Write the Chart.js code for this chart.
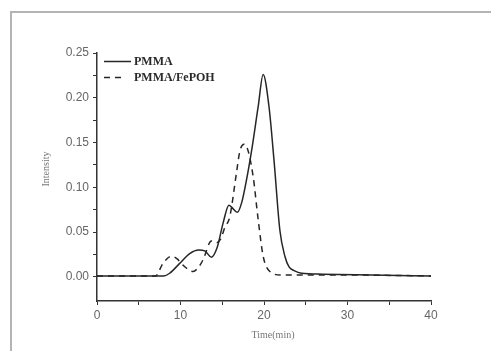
<!DOCTYPE html>
<html>
<head>
<meta charset="utf-8">
<script src="https://cdn.jsdelivr.net/npm/chart.js@4/dist/chart.umd.min.js"></script>
<style>
  body { margin: 0; background: #fff; }
  #wrap { position: relative; width: 491px; height: 351px; overflow: hidden; }
  #frame {
    position: absolute; left: 10px; top: 11px; width: 600px; height: 400px;
    border-left: 2px solid #b4b4b4; border-top: 2px solid #b4b4b4;
  }
  canvas { position: absolute; left: 0; top: 0; }
</style>
</head>
<body>
<div id="wrap">
  <div id="frame"></div>
  <canvas id="gpcChart" width="491" height="351"></canvas>
</div>
<script>
// 曲线数据
const pmmaTime = [0, 8, 8.7, 9.9, 11.1, 12.2, 12.9, 13.7, 14.4, 15.1, 15.8, 16.2, 16.8, 17.3, 17.9, 18.5, 19.3, 19.9, 20.6, 21.2, 21.9, 22.5, 23.0, 23.6, 24.5, 27, 33, 40];
const pmmaIntensity = [0.001, 0.001, 0.004, 0.015, 0.026, 0.030, 0.029, 0.022, 0.033, 0.060, 0.080, 0.077, 0.072, 0.082, 0.108, 0.140, 0.190, 0.226, 0.190, 0.130, 0.052, 0.023, 0.011, 0.007, 0.004, 0.003, 0.002, 0.001];

const fepohTime = [0, 7, 7.9, 8.9, 9.6, 10.3, 11.5, 12.1, 12.7, 13.7, 14.3, 14.8, 15.3, 15.9, 16.7, 17.1, 17.6, 17.9, 18.7, 19.3, 19.9, 20.7, 22.1, 30, 40];
const fepohIntensity = [0.001, 0.001, 0.015, 0.023, 0.020, 0.013, 0.006, 0.010, 0.019, 0.040, 0.038, 0.042, 0.055, 0.067, 0.116, 0.140, 0.148, 0.146, 0.112, 0.064, 0.023, 0.006, 0.002, 0.002, 0.001];

const seriesLabels = ['PMMA', 'PMMA/FePOH'];

// 刻度
const xTickLabels = [0, 10, 20, 30, 40];
const yTickLabels = [0.00, 0.05, 0.10, 0.15, 0.20, 0.25];

const xTitle = 'Time(min)';
const yTitle = 'Intensity';

function toPoints(xs, ys) {
    return xs.map((x, i) => ({ x: x, y: ys[i] }));
}

// 主刻度之间加次刻度
function withMinor(major) {
    const out = [];
    major.forEach((v, i) => {
        out.push(v);
        if (i < major.length - 1) out.push((v + major[i + 1]) / 2);
    });
    return out;
}

const lineColor = '#262626';

// 图内图例 + 坐标轴标题
const insideLegend = {
    id: 'insideLegend',
    afterDraw(chart) {
        const ctx = chart.ctx;
        const rows = [61.5, 77.5];
        ctx.save();
        chart.data.datasets.forEach((ds, i) => {
            const y = rows[i];
            ctx.beginPath();
            ctx.strokeStyle = ds.borderColor;
            ctx.lineWidth = ds.borderWidth;
            ctx.setLineDash(ds.borderDash || []);
            ctx.moveTo(104, y);
            ctx.lineTo(i === 0 ? 131 : 125, y);
            ctx.stroke();
            ctx.setLineDash([]);
            ctx.fillStyle = '#2a2a2a';
            ctx.font = 'bold 12px "Liberation Serif", "Times New Roman", serif';
            ctx.textBaseline = 'middle';
            ctx.fillText(ds.label, 134, y + 0.5);
        });

        // axis titles
        ctx.fillStyle = '#777';
        ctx.font = '10px "Liberation Serif", "Times New Roman", serif';
        ctx.textAlign = 'center';
        ctx.textBaseline = 'middle';
        ctx.fillText(xTitle, 273, 335);
        ctx.translate(46, 169);
        ctx.rotate(-Math.PI / 2);
        ctx.fillText(yTitle, 0, 0);
        ctx.restore();
    }
};

const ctx = document.getElementById('gpcChart').getContext('2d');

let gpcChart = new Chart(ctx, {
    type: 'line',
    data: {
        datasets: [{
            label: seriesLabels[0],
            data: toPoints(pmmaTime, pmmaIntensity),
            borderColor: lineColor,
            borderWidth: 1.5,
            pointRadius: 0,
            cubicInterpolationMode: 'monotone',
            fill: false
        }, {
            label: seriesLabels[1],
            data: toPoints(fepohTime, fepohIntensity),
            borderColor: lineColor,
            borderWidth: 1.5,
            borderDash: [6, 5],
            pointRadius: 0,
            cubicInterpolationMode: 'monotone',
            fill: false
        }]
    },
    options: {
        responsive: false,
        animation: false,
        layout: {
            padding: { left: 41, top: 53, right: 60, bottom: 10 }
        },
        plugins: {
            legend: { display: false },
            tooltip: { enabled: false }
        },
        scales: {
            x: {
                type: 'linear',
                min: 0,
                max: 40,
                afterBuildTicks: (scale) => {
                    scale.ticks = withMinor(xTickLabels).map(v => ({ value: v }));
                },
                afterFit: (scale) => { scale.height = 40; },
                ticks: {
                    autoSkip: false,
                    maxRotation: 0,
                    padding: 3,
                    color: '#666',
                    font: { family: '"Liberation Sans", Arial, sans-serif', size: 12 },
                    callback: (v) => xTickLabels.includes(v) ? String(v) : ''
                },
                grid: {
                    drawOnChartArea: false,
                    drawTicks: true,
                    tickLength: 4,
                    color: '#333'
                },
                border: { display: true, color: '#333', width: 1.5 }
            },
            y: {
                min: -0.027,
                max: 0.25,
                afterBuildTicks: (scale) => {
                    scale.ticks = withMinor(yTickLabels).map(v => ({ value: v }));
                },
                afterFit: (scale) => { scale.width = 56; },
                ticks: {
                    autoSkip: false,
                    padding: 4,
                    color: '#666',
                    font: { family: '"Liberation Sans", Arial, sans-serif', size: 12 },
                    callback: (v) => {
                        const hit = yTickLabels.find(t => Math.abs(t - v) < 1e-9);
                        return hit !== undefined ? hit.toFixed(2) : '';
                    }
                },
                grid: {
                    drawOnChartArea: false,
                    drawTicks: true,
                    tickLength: 4,
                    color: '#333'
                },
                border: { display: true, color: '#333', width: 1.5 }
            }
        }
    },
    plugins: [insideLegend]
});
</script>
</body>
</html>
